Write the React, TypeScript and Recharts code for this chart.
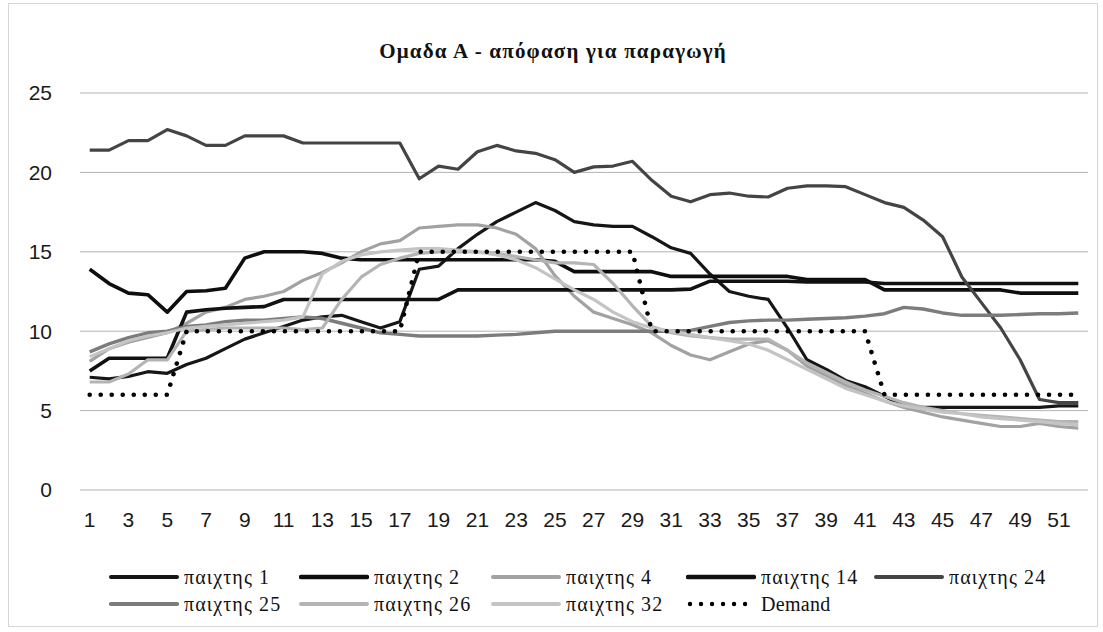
import React from 'react';
import { LineChart, Line, XAxis, YAxis, CartesianGrid } from 'recharts';

// weeks on the x axis
const weeks = [
  '1', '2', '3', '4', '5', '6', '7', '8', '9', '10',
  '11', '12', '13', '14', '15', '16', '17', '18', '19', '20',
  '21', '22', '23', '24', '25', '26', '27', '28', '29', '30',
  '31', '32', '33', '34', '35', '36', '37', '38', '39', '40',
  '41', '42', '43', '44', '45', '46', '47', '48', '49', '50',
  '51', '52',
];

const player1 = [
  7.1, 7.0, 7.15, 7.45, 7.35, 7.9, 8.3, 8.9, 9.5, 9.9,
  10.3, 10.7, 10.9, 11.0, 10.6, 10.2, 10.6, 13.9, 14.1, 15.2,
  16.1, 16.9, 17.5, 18.1, 17.6, 16.9, 16.7, 16.6, 16.6, 15.95,
  15.25, 14.9, 13.6, 12.5, 12.2, 12.0, 10.2, 8.2, 7.6, 6.9,
  6.5, 5.9, 5.3, 5.2, 5.2, 5.2, 5.2, 5.2, 5.2, 5.2,
  5.3, 5.3,
];

const player2 = [
  13.9, 13.0, 12.4, 12.3, 11.2, 12.5, 12.55, 12.7, 14.6, 15.0,
  15.0, 15.0, 14.9, 14.6, 14.5, 14.5, 14.5, 14.5, 14.5, 14.5,
  14.5, 14.5, 14.5, 14.5, 14.4, 13.75, 13.75, 13.75, 13.75, 13.75,
  13.45, 13.45, 13.45, 13.45, 13.45, 13.45, 13.45, 13.25, 13.25, 13.25,
  13.25, 12.6, 12.6, 12.6, 12.6, 12.6, 12.6, 12.6, 12.4, 12.4,
  12.4, 12.4,
];

const player4 = [
  8.1, 8.9, 9.3, 9.6, 9.9, 10.5, 11.2, 11.5, 12.0, 12.2,
  12.5, 13.2, 13.7, 14.3, 15.0, 15.5, 15.7, 16.5, 16.6, 16.7,
  16.7, 16.5, 16.1, 15.2, 13.5, 12.2, 11.2, 10.8, 10.4, 9.9,
  9.1, 8.5, 8.2, 8.7, 9.2, 9.4, 8.8, 7.8, 7.2, 6.6,
  6.1, 5.6, 5.2, 4.9, 4.6, 4.4, 4.2, 4.0, 4.0, 4.2,
  4.0, 3.9,
];

const player14 = [
  7.5, 8.3, 8.3, 8.3, 8.3, 11.2, 11.35, 11.45, 11.5, 11.55,
  12.0, 12.0, 12.0, 12.0, 12.0, 12.0, 12.0, 12.0, 12.0, 12.6,
  12.6, 12.6, 12.6, 12.6, 12.6, 12.6, 12.6, 12.6, 12.6, 12.6,
  12.6, 12.65, 13.15, 13.15, 13.15, 13.15, 13.15, 13.1, 13.1, 13.1,
  13.1, 13.0, 13.0, 13.0, 13.0, 13.0, 13.0, 13.0, 13.0, 13.0,
  13.0, 13.0,
];

const player24 = [
  21.4, 21.4, 22.0, 22.0, 22.7, 22.3, 21.7, 21.7, 22.3, 22.3,
  22.3, 21.85, 21.85, 21.85, 21.85, 21.85, 21.85, 19.6, 20.4, 20.2,
  21.3, 21.7, 21.35, 21.2, 20.8, 20.0, 20.35, 20.4, 20.7, 19.5,
  18.5, 18.15, 18.6, 18.7, 18.5, 18.45, 19.0, 19.15, 19.15, 19.1,
  18.6, 18.1, 17.8, 17.0, 15.95, 13.4, 11.8, 10.2, 8.2, 5.7,
  5.5, 5.5,
];

const player25 = [
  8.7, 9.2, 9.6, 9.9, 10.0, 10.3, 10.4, 10.6, 10.7, 10.7,
  10.8, 10.9, 10.8, 10.5, 10.2, 9.9, 9.8, 9.7, 9.7, 9.7,
  9.7, 9.75, 9.8, 9.9, 10.0, 10.0, 10.0, 10.0, 10.0, 10.0,
  10.0, 10.05, 10.3, 10.55, 10.65, 10.7, 10.7, 10.75, 10.8, 10.85,
  10.95, 11.1, 11.5, 11.4, 11.15, 11.0, 11.0, 11.0, 11.05, 11.1,
  11.1, 11.15,
];

const player26 = [
  6.8, 6.8, 7.3, 8.2, 8.2, 10.0, 10.1, 10.2, 10.2, 10.2,
  10.2, 10.1, 10.2, 12.0, 13.4, 14.2, 14.6, 14.9, 15.0, 15.0,
  15.0, 14.9, 14.7, 14.5, 14.3, 14.3, 14.2, 13.0, 11.6, 10.3,
  9.9, 9.7, 9.6, 9.5, 9.5, 9.5, 8.8, 8.0, 7.4, 6.8,
  6.3, 5.9, 5.5, 5.2, 5.0, 4.8, 4.7, 4.6, 4.5, 4.4,
  4.3, 4.3,
];

const player32 = [
  8.4, 8.9, 9.4, 9.7, 9.9, 10.2, 10.3, 10.4, 10.5, 10.6,
  10.7, 10.9, 13.6, 14.4, 14.8, 15.0, 15.1, 15.2, 15.2, 15.1,
  15.0, 14.8, 14.5, 14.0, 13.3, 12.6, 12.0, 11.2, 10.6, 10.2,
  10.0, 9.8, 9.6, 9.4, 9.2, 8.8, 8.2, 7.6, 7.0, 6.4,
  6.0, 5.6, 5.3, 5.1, 4.9, 4.8, 4.6, 4.5, 4.4, 4.3,
  4.2, 4.1,
];

const demand = [
  6, 6, 6, 6, 6, 10, 10, 10, 10, 10,
  10, 10, 10, 10, 10, 10, 10, 15, 15, 15,
  15, 15, 15, 15, 15, 15, 15, 15, 15, 10,
  10, 10, 10, 10, 10, 10, 10, 10, 10, 10,
  10, 6, 6, 6, 6, 6, 6, 6, 6, 6,
  6, 6,
];

const yTicks = [0, 5, 10, 15, 20, 25];

const series = [
  { key: 'p1', name: 'παιχτης 1', values: player1, color: '#161616', width: 3.2 },
  { key: 'p2', name: 'παιχτης 2', values: player2, color: '#0e0e0e', width: 3.6 },
  { key: 'p4', name: 'παιχτης 4', values: player4, color: '#a2a2a2', width: 3.2 },
  { key: 'p14', name: 'παιχτης 14', values: player14, color: '#111111', width: 3.6 },
  { key: 'p24', name: 'παιχτης 24', values: player24, color: '#444444', width: 3.2 },
  { key: 'p25', name: 'παιχτης 25', values: player25, color: '#7c7c7c', width: 3.4 },
  { key: 'p26', name: 'παιχτης 26', values: player26, color: '#b4b4b4', width: 3.2 },
  { key: 'p32', name: 'παιχτης 32', values: player32, color: '#c4c4c4', width: 3.2 },
  { key: 'demand', name: 'Demand', values: demand, color: '#000000', width: 4.6, dotted: true },
];

const data = weeks.map((week, i) => {
  const row: any = { week };
  series.forEach(s => { row[s.key] = s.values[i]; });
  return row;
});

const tickFont = "'Liberation Sans', Arial, sans-serif";
const serif = "'Liberation Serif', 'Times New Roman', serif";

// legend grid: 5 columns, 2 rows (like the Excel legend)
const legendCols = [100, 290, 482, 677, 865];
const legendRows = [561, 588];

const Swatch = ({ color, width, dotted }: any) => (
  <svg width={70} height={10} style={{ display: 'block' }}>
    {dotted ? (
      <line x1={4} y1={5} x2={66} y2={5} stroke={color} strokeWidth={4.4}
        strokeDasharray="0.01 11" strokeLinecap="round" />
    ) : (
      <line x1={2} y1={5} x2={68} y2={5} stroke={color} strokeWidth={width + 0.8} strokeLinecap="round" />
    )}
  </svg>
);

const ChartLegend = () => (
  <>
    {series.map((s, i) => (
      <div key={s.key} style={{
        position: 'absolute',
        left: legendCols[i % 5],
        top: legendRows[Math.floor(i / 5)],
        height: 24,
        display: 'flex',
        alignItems: 'center',
        whiteSpace: 'nowrap',
      }}>
        <Swatch color={s.color} width={s.width} dotted={s.dotted} />
        <span style={{
          fontFamily: serif, fontSize: 20, color: '#111', marginLeft: 5,
          letterSpacing: s.dotted ? 0.3 : 1.1,
        }}>{s.name}</span>
      </div>
    ))}
  </>
);

export default function App() {
  return (
    <div style={{
      position: 'absolute', left: 8, top: 3, width: 1088, height: 622,
      border: '1px solid #d6d6d6', background: '#fff',
    }}>
      <div style={{
        position: 'absolute', top: 35, left: 0, width: '100%', textAlign: 'center',
        fontFamily: serif, fontWeight: 'bold', fontSize: 21, letterSpacing: 1.2, color: '#111',
      }}>
        Ομαδα Α - απόφαση για παραγωγή
      </div>
      <LineChart width={1088} height={622} data={data}
        margin={{ top: 89, right: 9, bottom: 96, left: 0 }}>
        <CartesianGrid vertical={false} stroke="#b3b3b3" strokeWidth={1} />
        <XAxis dataKey="week" interval={1} tickLine={false} axisLine={false}
          padding={{ left: 9.7, right: 9.7 }} height={40} tickMargin={16}
          tick={{ fontSize: 21, fill: '#1a1a1a', fontFamily: tickFont }} />
        <YAxis domain={[0, 25]} ticks={yTicks} width={71} tickLine={false} axisLine={false}
          tickMargin={22} tick={{ fontSize: 21, fill: '#1a1a1a', fontFamily: tickFont }} />
        {series.map(s => (
          <Line key={s.key} type="linear" dataKey={s.key} name={s.name}
            stroke={s.color} strokeWidth={s.width} dot={false}
            strokeDasharray={s.dotted ? '0.01 11' : undefined}
            strokeLinecap={s.dotted ? 'round' : 'butt'} strokeLinejoin="round"
            isAnimationActive={false} />
        ))}
      </LineChart>
      <ChartLegend />
    </div>
  );
}
